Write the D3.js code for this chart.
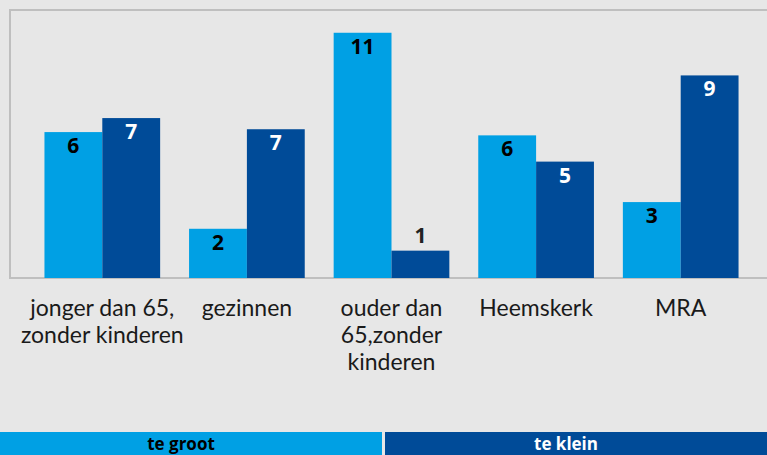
<!DOCTYPE html>
<html><head><meta charset="utf-8">
<script src="https://cdn.jsdelivr.net/npm/d3@7"></script>
<style>html,body{margin:0;padding:0;background:#e7e7e7;}svg{display:block;}</style>
</head><body><svg id="c" width="767" height="455"></svg>
<script>
const categories = [
  ["jonger dan 65,", "zonder kinderen"],
  ["gezinnen"],
  ["ouder dan", "65,zonder", "kinderen"],
  ["Heemskerk"],
  ["MRA"]
];
const seriesNames = ["te groot", "te klein"];
const teGroot = [6.42, 2.00, 10.96, 6.27, 3.22];
const teKlein = [7.06, 6.55, 1.00, 5.07, 9.01];
const colors = ["#00a0e4", "#004b98"];
const labelColors = ["#000000", "#ffffff"];

const W = 767, H = 455;
const svg = d3.select("#c");
svg.append("rect").attr("width", W).attr("height", H).attr("fill", "#e7e7e7");

const plot = {left: 10, top: 10, bottom: 278, right: 767};
const keys = categories.map(c => c.join(" "));
const x0 = d3.scaleBand().domain(keys).range([30, 753]).paddingInner(0.2).paddingOuter(0.1);
const x1 = d3.scaleBand().domain(seriesNames).range([0, x0.bandwidth()]);
const y = d3.scaleLinear().domain([-0.25, 12]).range([plot.bottom, plot.top]);

// frame
svg.append("path")
  .attr("d", `M${plot.right},${plot.top}H${plot.left}V${plot.bottom}H${plot.right}`)
  .attr("fill", "none").attr("stroke", "#bfbfbf").attr("stroke-width", 2);

const data = keys.map((k, i) => ({key: k, vals: [teGroot[i], teKlein[i]]}));
const g = svg.append("g").selectAll("g").data(data).join("g")
  .attr("transform", d => `translate(${x0(d.key)},0)`);

g.selectAll("rect").data(d => d.vals.map((v, j) => ({v, s: seriesNames[j], j})))
  .join("rect")
  .attr("x", d => x1(d.s)).attr("width", x1.bandwidth())
  .attr("y", d => y(d.v)).attr("height", d => y(-0.25) - y(d.v))
  .attr("fill", d => colors[d.j]);

g.selectAll("text.lbl").data(d => d.vals.map((v, j) => ({v, s: seriesNames[j], j})))
  .join("text").attr("class", "lbl")
  .attr("x", d => x1(d.s) + x1.bandwidth() / 2)
  .attr("y", d => {
    const h = y(-0.25) - y(d.v);
    return h < 35 ? y(d.v) - 8 : y(d.v) + 21;
  })
  .attr("text-anchor", "middle")
  .attr("font-family", "'Open Sans', sans-serif")
  .attr("font-weight", 700)
  .attr("font-size", 21)
  .attr("fill", d => (y(-0.25) - y(d.v)) < 35 ? "#222" : labelColors[d.j])
  .text(d => d3.format(".0f")(d.v));

// category labels
const cat = svg.append("g").selectAll("text").data(categories).join("text")
  .attr("text-anchor", "middle")
  .attr("font-family", "Lato, sans-serif")
  .attr("font-size", 23)
  .attr("fill", "#1a1a1a");
cat.each(function(lines, i) {
  const cx = x0(keys[i]) + x0.bandwidth() / 2;
  d3.select(this).selectAll("tspan").data(lines).join("tspan")
    .attr("x", cx).attr("y", (l, k) => 316 + k * 27).text(l => l);
});

// legend
const lx = d3.scaleBand().domain(seriesNames).range([0, W + 3]).paddingInner(0);
const leg = svg.append("g").selectAll("g").data(seriesNames).join("g");
leg.append("rect")
  .attr("x", d => lx(d)).attr("y", 432)
  .attr("width", lx.bandwidth() - 3).attr("height", 23)
  .attr("fill", (d, i) => colors[i]);
leg.append("text")
  .attr("x", d => lx(d) + (lx.bandwidth() - 3) / 2 - 10)
  .attr("y", 450)
  .attr("text-anchor", "middle")
  .attr("font-family", "'Open Sans', sans-serif")
  .attr("font-weight", 700)
  .attr("font-size", 17)
  .attr("fill", (d, i) => labelColors[i])
  .text(d => d);
</script></body></html>
